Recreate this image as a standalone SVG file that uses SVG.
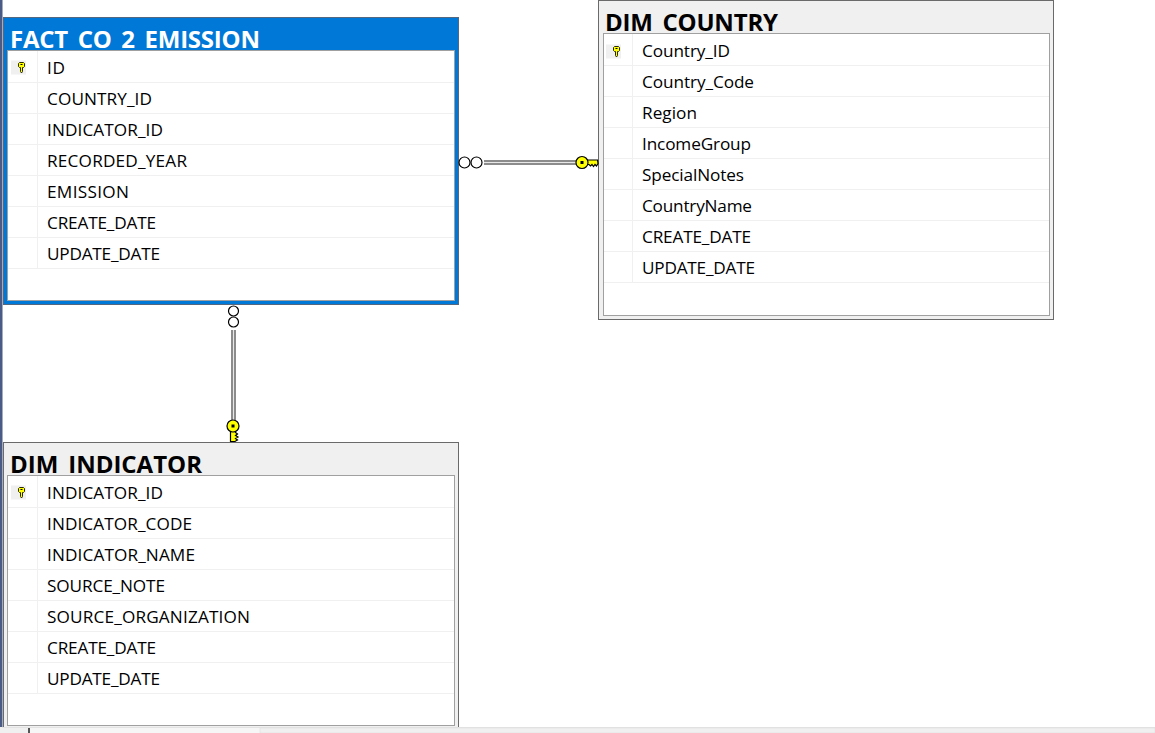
<svg xmlns="http://www.w3.org/2000/svg" width="1155" height="733" viewBox="0 0 1155 733">
<style>
text{font-family:"Open Sans","Noto Sans","Liberation Sans",sans-serif;fill:#000}
.t{font-size:24px;font-weight:700}
.f{font-size:17.2px}
.frame{fill:#f0f0f0;stroke:#6a6a6a;stroke-width:1}
.blue{fill:#0078d7;stroke:#54697f;stroke-width:1}
.body{fill:#fff;stroke:#a0a0a0;stroke-width:1}
.row{stroke:#f0f0f0;stroke-width:1;fill:none}
.cell{fill:#f0f0f0}
.ring{fill:#fff;stroke:#000;stroke-width:1.200}
.keyshape{fill:#ffff00;stroke:#000;stroke-width:1.200}
</style>
<defs>
<g id="smallkey">
<rect x="-11" y="-6.500" width="15" height="14" class="cell"/>
<path d="M-2.500-4.500h4l1 1v3l-1 1h-1v4l-1 1.500-1-1.500v-4h-1l-1-1v-3z" fill="#ffff00" stroke="#2a2a00" stroke-width="1"/>
<rect x="-1.500" y="-3" width="2" height="1" fill="#000"/>
</g>
</defs>
<rect width="1155" height="733" fill="#fff"/>
<rect x="0" y="0" width="2.500" height="733" fill="#4a5b85"/>

<g id="fact-co2-emission">
<rect x="3.500" y="17.500" width="455" height="287" class="blue"/>
<text class="t" x="10" y="47.500" textLength="250" style="fill:#fff">FACT_CO_2_EMISSION</text>
<rect x="7.500" y="50.500" width="447" height="250" class="body"/>
<path class="row" d="M8 82.500H454M8 113.500H454M8 144.500H454M8 175.500H454M8 206.500H454M8 237.500H454M8 268.500H454M37.500 51V268.500"/>
<use href="#smallkey" x="22" y="67"/>
<text class="f" x="47" y="73.500" textLength="18">ID</text>
<text class="f" x="47" y="105" textLength="105">COUNTRY_ID</text>
<text class="f" x="47" y="136" textLength="116">INDICATOR_ID</text>
<text class="f" x="47" y="167" textLength="140">RECORDED_YEAR</text>
<text class="f" x="47" y="198" textLength="82">EMISSION</text>
<text class="f" x="47" y="229" textLength="109">CREATE_DATE</text>
<text class="f" x="47" y="260" textLength="113">UPDATE_DATE</text>
</g>

<g id="dim-country">
<rect x="598.500" y="0.500" width="455" height="319" class="frame"/>
<text class="t" x="605" y="31" textLength="173">DIM_COUNTRY</text>
<rect x="603.500" y="33.500" width="446" height="282" class="body"/>
<path class="row" d="M604 65.500H1049M604 96.500H1049M604 127.500H1049M604 158.500H1049M604 189.500H1049M604 220.500H1049M604 251.500H1049M604 282.500H1049M632.500 34V282.500"/>
<use href="#smallkey" x="617" y="51"/>
<text class="f" x="642" y="57" textLength="88">Country_ID</text>
<text class="f" x="642" y="88" textLength="112">Country_Code</text>
<text class="f" x="642" y="119" textLength="55">Region</text>
<text class="f" x="642" y="150" textLength="109">IncomeGroup</text>
<text class="f" x="642" y="181" textLength="102">SpecialNotes</text>
<text class="f" x="642" y="212" textLength="110">CountryName</text>
<text class="f" x="642" y="243" textLength="109">CREATE_DATE</text>
<text class="f" x="642" y="274" textLength="113">UPDATE_DATE</text>
</g>

<g id="dim-indicator">
<rect x="3.500" y="442.500" width="455" height="290" class="frame"/>
<text class="t" x="10" y="473" textLength="192">DIM_INDICATOR</text>
<rect x="7.500" y="475.500" width="447" height="250" class="body"/>
<path class="row" d="M8 507.500H454M8 538.500H454M8 569.500H454M8 600.500H454M8 631.500H454M8 662.500H454M8 693.500H454M37.500 476V693.500"/>
<use href="#smallkey" x="22" y="492"/>
<text class="f" x="47" y="499" textLength="116">INDICATOR_ID</text>
<text class="f" x="47" y="530" textLength="145">INDICATOR_CODE</text>
<text class="f" x="47" y="561" textLength="148">INDICATOR_NAME</text>
<text class="f" x="47" y="592" textLength="118">SOURCE_NOTE</text>
<text class="f" x="47" y="623" textLength="203">SOURCE_ORGANIZATION</text>
<text class="f" x="47" y="654" textLength="109">CREATE_DATE</text>
<text class="f" x="47" y="685" textLength="113">UPDATE_DATE</text>
</g>

<g id="connectors">
<g id="fact-to-country">
<rect x="484" y="160" width="92" height="5" fill="#8c8c8c"/>
<rect x="484" y="162" width="92" height="1" fill="#e8e8e8"/>
<circle class="ring" cx="464.500" cy="162.500" r="5.500"/>
<circle class="ring" cx="476.500" cy="162.500" r="5.500"/>
<path class="keyshape" d="M586 160h11.500l.5 3.500-1.500 2.500-1.500-1.500-1.500 2-1.500-2-1.500 1.500-1.500-1.500h-3z"/>
<circle class="keyshape" cx="582" cy="162.500" r="6"/>
<rect x="580.500" y="161" width="3" height="3" fill="#000"/>
</g>
<g id="fact-to-indicator">
<rect x="231" y="330" width="5" height="90" fill="#8c8c8c"/>
<rect x="233" y="330" width="1" height="90" fill="#e8e8e8"/>
<circle class="ring" cx="233.500" cy="311" r="5"/>
<circle class="ring" cx="233.500" cy="322" r="5"/>
<path class="keyshape" d="M230.500 430v11.500h4.500l2.500-1.500-2-1.500 2.500-1.500-2.500-1.500 2-1.500-2-1.500V430z"/>
<circle class="keyshape" cx="233" cy="426" r="6"/>
<rect x="231.500" y="424.500" width="3" height="3" fill="#000"/>
</g>
</g>

<g id="scrollbar">
<rect x="0" y="727" width="1155" height="6" fill="#f0f0f0"/>
<rect x="2" y="727" width="1153" height="1" fill="#e3e3e3"/>
<rect x="28" y="728" width="2" height="5" fill="#555"/>
<rect x="30" y="728" width="230" height="5" fill="#f6f6f6"/>
<rect x="260" y="728" width="895" height="5" fill="#f0f0f0" stroke="#dcdcdc" stroke-width="0.500"/>
</g>
</svg>
